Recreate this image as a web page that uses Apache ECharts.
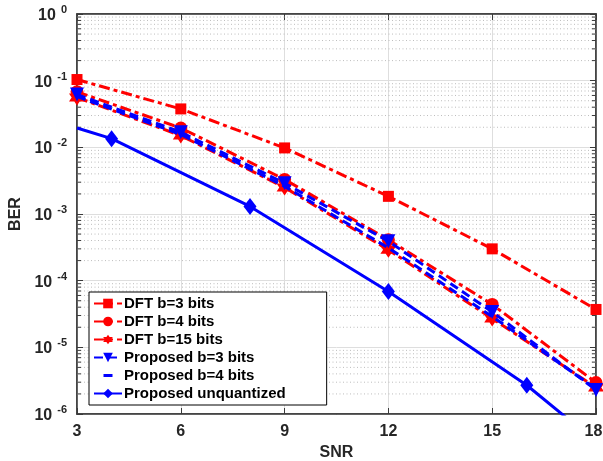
<!DOCTYPE html>
<html>
<head>
<meta charset="utf-8">
<script src="https://cdn.jsdelivr.net/npm/echarts@6/dist/echarts.min.js"></script>
<style>
html,body{margin:0;padding:0;background:#fff;}
#chart{width:603px;height:461px;}
</style>
</head>
<body>
<div id="chart"></div>
<script>
// ---- data ----
const snr = [3, 6, 9, 12, 15, 18];
const dft3 = [0.104, 0.0377, 0.0098, 0.00184, 3.0e-4, 3.7e-5];
const dft4 = [0.068, 0.0195, 0.0033, 4.1e-4, 4.4e-5, 2.96e-6];
const dft15 = [0.056, 0.0150, 0.0025, 2.9e-4, 2.7e-5, 2.5e-6];
const prop3 = [0.062, 0.0169, 0.0029, 3.9e-4, 3.4e-5, 2.3e-6];
const prop4 = [0.058, 0.0156, 0.0026, 3.1e-4, 2.9e-5, 2.4e-6];
const snrUnq = [3, 4, 8, 12, 16, 18];
const propUnq = [0.0195, 0.0135, 0.0013, 6.9e-5, 2.7e-6, 3.8e-7];
const unqMarker = [false, true, true, true, true, false];
const xTicks = [3, 6, 9, 12, 15, 18];
const yDecades = [-6, -5, -4, -3, -2, -1, 0];
const seriesNames = ['DFT b=3 bits', 'DFT b=4 bits', 'DFT b=15 bits',
  'Proposed b=3 bits', 'Proposed b=4 bits', 'Proposed unquantized'];

const xMin = xTicks[0], xMax = xTicks[xTicks.length - 1];
const yMin = Math.pow(10, yDecades[0]), yMax = Math.pow(10, yDecades[yDecades.length - 1]);
const minorVals = [];
for (let i = 0; i < yDecades.length - 1; i++) {
  for (let m = 2; m <= 9; m++) minorVals.push(m * Math.pow(10, yDecades[i]));
}

const RED = '#ff0000', BLUE = '#0000ff';
const FONT = 'Liberation Sans, Arial, Helvetica, sans-serif';
const AX = '#3a3a3a';
const hexagram = 'path://M0,-10 L2.89,-5 L8.66,-5 L5.77,0 L8.66,5 L2.89,5 L0,10 L-2.89,5 L-8.66,5 L-5.77,0 L-8.66,-5 L-2.89,-5 Z';
const triDown = 'path://M-10,-8 L10,-8 L0,9 Z';
// legend icon for the marker-less dashed series: a single short dash centred in a 28x12 box
const dashIcon = 'path://M0,0 L0.01,0 L0.01,0.01 Z M27.99,11.99 L28,11.99 L28,12 Z M9.5,4.5 L18.5,4.5 L18.5,7.5 L9.5,7.5 Z';

function pairs(xs, ys) { return xs.map((x, i) => [x, ys[i]]); }

const chart = echarts.init(document.getElementById('chart'), null, {renderer: 'canvas'});

const xLabelStyle = {fontFamily: FONT, fontWeight: 'bold', fontSize: 16, color: '#262626'};

const option = {
  animation: false,
  backgroundColor: '#fff',
  textStyle: {fontFamily: FONT},
  grid: {left: 77, right: 7, top: 14, bottom: 47, containLabel: false, outerBoundsMode: 'none',
    show: true, borderColor: AX, borderWidth: 1.5, backgroundColor: 'transparent'},
  legend: {
    data: seriesNames.map(n => n === 'Proposed b=4 bits'
      ? {name: n, icon: dashIcon, itemStyle: {color: BLUE}}
      : {name: n}),
    orient: 'vertical',
    left: 89, top: 292,
    itemWidth: 28, itemHeight: 12, itemGap: 3,
    padding: [4, 41, 4, 4],
    backgroundColor: '#fff',
    borderColor: '#000', borderWidth: 1,
    textStyle: {fontFamily: FONT, fontWeight: 'bold', fontSize: 15, color: '#000', padding: [0, 0, 0, -3]}
  },
  xAxis: [{
    type: 'value', min: xMin, max: xMax, interval: 3, position: 'bottom',
    name: 'SNR', nameLocation: 'middle', nameGap: 30,
    nameTextStyle: {fontFamily: FONT, fontWeight: 'bold', fontSize: 16, color: '#262626'},
    axisLine: {show: true, lineStyle: {color: AX, width: 1.5}},
    axisTick: {show: true, inside: true, length: 6, lineStyle: {color: AX}},
    axisLabel: {
      margin: 10,
      formatter: function (v) { return v === xMax ? '{r|' + v + '}' : '{n|' + v + '}'; },
      rich: {
        n: xLabelStyle,
        r: Object.assign({}, xLabelStyle, {padding: [0, 5, 0, 0]})
      }
    },
    splitLine: {show: true, lineStyle: {color: '#dedede', width: 1}}
  }, {
    type: 'value', min: xMin, max: xMax, interval: 3, position: 'top',
    axisLine: {show: true, lineStyle: {color: AX, width: 1.5}},
    axisTick: {show: true, inside: true, length: 6, lineStyle: {color: AX}},
    axisLabel: {show: false}, splitLine: {show: false}
  }],
  yAxis: [{
    type: 'log', logBase: 10, min: yMin, max: yMax, interval: 1, position: 'left',
    name: 'BER', nameLocation: 'middle', nameGap: 51, nameRotate: 90,
    nameTextStyle: {fontFamily: FONT, fontWeight: 'bold', fontSize: 16, color: '#262626'},
    axisLine: {show: true, lineStyle: {color: AX, width: 1.5}},
    axisTick: {show: true, inside: true, length: 6, lineStyle: {color: AX}},
    axisLabel: {
      margin: 10,
      formatter: function (v) {
        const e = Math.round(Math.log10(v));
        return '{b|10}{s|' + e + '}';
      },
      rich: {
        b: {fontFamily: FONT, fontWeight: 'bold', fontSize: 16, color: '#262626', verticalAlign: 'bottom'},
        s: {fontFamily: FONT, fontWeight: 'bold', fontSize: 11, color: '#262626', verticalAlign: 'bottom', padding: [0, 0, 8, 5]}
      }
    },
    splitLine: {show: true, lineStyle: {color: '#dedede', width: 1}}
  }, {
    type: 'log', logBase: 10, min: yMin, max: yMax, interval: 1, position: 'right',
    axisLine: {show: true, lineStyle: {color: AX, width: 1.5}},
    axisTick: {show: true, inside: true, length: 6, lineStyle: {color: AX}},
    axisLabel: {show: false}, splitLine: {show: false}
  }],
  series: [
    {
      type: 'custom', name: 'minorGrid', silent: true, z: 1,
      xAxisIndex: 0, yAxisIndex: 0,
      data: minorVals.map(v => [xMin, v]),
      renderItem: function (params, api) {
        const y = api.value(1);
        const p0 = api.coord([xMin, y]);
        const p1 = api.coord([xMax, y]);
        return {
          type: 'group',
          children: [
            {type: 'line', shape: {x1: p0[0], y1: p0[1], x2: p1[0], y2: p1[1]},
              style: {stroke: '#bdbdbd', lineWidth: 1, lineDash: [1, 2.5]}},
            {type: 'line', shape: {x1: p0[0], y1: p0[1], x2: p0[0] + 4, y2: p0[1]},
              style: {stroke: AX, lineWidth: 1}},
            {type: 'line', shape: {x1: p1[0], y1: p1[1], x2: p1[0] - 4, y2: p1[1]},
              style: {stroke: AX, lineWidth: 1}}
          ]
        };
      }
    },
    {
      name: seriesNames[0], type: 'line', data: pairs(snr, dft3), z: 3,
      symbol: 'rect', symbolSize: 11,
      lineStyle: {color: RED, width: 3, type: [11, 4, 4, 4]},
      itemStyle: {color: RED}
    },
    {
      name: seriesNames[1], type: 'line', data: pairs(snr, dft4), z: 3,
      symbol: 'circle', symbolSize: 13,
      lineStyle: {color: RED, width: 3, type: [11, 4, 4, 4]},
      itemStyle: {color: RED}
    },
    {
      name: seriesNames[2], type: 'line', data: pairs(snr, dft15), z: 3,
      symbol: hexagram, symbolSize: 16,
      lineStyle: {color: RED, width: 3, type: [11, 4, 4, 4]},
      itemStyle: {color: RED}
    },
    {
      name: seriesNames[3], type: 'line', data: pairs(snr, prop3), z: 4,
      symbol: triDown, symbolSize: 14,
      lineStyle: {color: BLUE, width: 3, type: [9, 5]},
      itemStyle: {color: BLUE}
    },
    {
      name: seriesNames[4], type: 'line', data: pairs(snr, prop4), z: 4,
      symbol: 'none', showSymbol: false,
      lineStyle: {color: BLUE, width: 3, type: [9, 5]},
      itemStyle: {color: BLUE}
    },
    {
      name: seriesNames[5], type: 'line', z: 4, clip: true,
      data: snrUnq.map((x, i) => ({value: [x, propUnq[i]], symbol: unqMarker[i] ? 'diamond' : 'none'})),
      symbol: 'diamond', symbolSize: [13, 17],
      lineStyle: {color: BLUE, width: 3, type: 'solid'},
      itemStyle: {color: BLUE}
    }
  ]
};
chart.setOption(option);
</script>
</body>
</html>
